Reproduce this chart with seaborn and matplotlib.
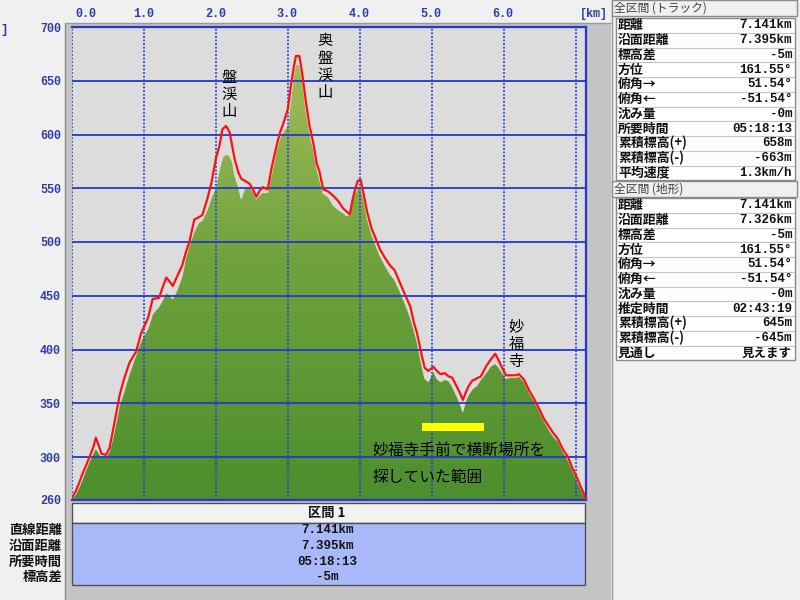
import numpy as np
import pandas as pd
import matplotlib
matplotlib.use("Agg")
import matplotlib.pyplot as plt
import seaborn as sns
from matplotlib.patches import Rectangle, PathPatch
from matplotlib.lines import Line2D
from matplotlib.colors import LinearSegmentedColormap

sns.set_style("white")
plt.rcParams['font.family'] = ['Noto Sans CJK JP', 'DejaVu Sans']

# ---------------- data ----------------
distance_km = [0.00, 0.05, 0.10, 0.15, 0.20, 0.25, 0.30, 0.33, 0.37, 0.41, 0.47, 0.52, 0.57, 0.62, 0.66,
               0.72, 0.80, 0.89, 0.96, 1.00, 1.06, 1.12, 1.21, 1.26, 1.31, 1.36, 1.40, 1.46, 1.53, 1.58,
               1.63, 1.70, 1.76, 1.81, 1.88, 1.94, 2.00, 2.05, 2.09, 2.14, 2.19, 2.23, 2.26, 2.31, 2.35,
               2.40, 2.47, 2.52, 2.56, 2.61, 2.65, 2.72, 2.77, 2.84, 2.89, 2.95, 3.00, 3.04, 3.08, 3.11,
               3.16, 3.20, 3.25, 3.30, 3.35, 3.40, 3.44, 3.49, 3.56, 3.63, 3.70, 3.77, 3.82, 3.86, 3.90,
               3.93, 3.97, 4.01, 4.05, 4.10, 4.16, 4.22, 4.28, 4.35, 4.42, 4.48, 4.55, 4.62, 4.70, 4.75,
               4.79, 4.83, 4.86, 4.90, 4.95, 5.02, 5.07, 5.12, 5.18, 5.23, 5.28, 5.35, 5.40, 5.43, 5.47,
               5.51, 5.56, 5.62, 5.68, 5.75, 5.81, 5.88, 5.92, 5.96, 6.03, 6.10, 6.16, 6.21, 6.28, 6.35,
               6.42, 6.49, 6.56, 6.63, 6.70, 6.75, 6.82, 6.89, 6.95, 7.02, 7.07, 7.11, 7.141]
track_elev_m = [262, 268, 276, 285, 293, 301, 310, 318, 311, 303, 302, 308, 325, 343, 357,
                372, 388, 398, 415, 421, 430, 447, 448, 458, 467, 463, 459, 468, 478, 490,
                500, 521, 523, 525, 540, 556, 578, 590, 605, 608, 602, 588, 577, 565, 559,
                557, 554, 548, 542, 548, 551, 549, 568, 589, 602, 613, 624, 645, 662, 673,
                673, 656, 630, 608, 593, 573, 565, 549, 547, 543, 538, 531, 528, 526, 540,
                548, 557, 558, 545, 528, 513, 503, 493, 485, 478, 474, 463, 452, 440, 425,
                416, 404, 394, 383, 380, 384, 380, 377, 378, 375, 374, 365, 358, 353, 360,
                366, 371, 373, 375, 384, 390, 396, 391, 385, 376, 376, 376, 377, 372, 362,
                354, 345, 335, 328, 321, 317, 307, 300, 290, 280, 272, 266, 260]
terrain_elev_m = [261, 265, 272, 280, 289, 297, 304, 308, 304, 300, 300, 305, 318, 334, 348,
                  360, 378, 395, 408, 413, 420, 433, 440, 446, 453, 450, 447, 455, 468, 485,
                  497, 510, 518, 520, 530, 542, 551, 568, 578, 582, 580, 574, 562, 552, 540,
                  550, 551, 546, 540, 544, 546, 546, 562, 585, 597, 604, 608, 632, 655, 665,
                  665, 650, 622, 602, 587, 568, 558, 545, 542, 534, 530, 527, 524, 528, 538,
                  545, 550, 550, 540, 522, 508, 497, 487, 478, 470, 465, 455, 444, 430, 418,
                  408, 395, 385, 373, 370, 380, 373, 370, 372, 371, 366, 356, 348, 342, 352,
                  358, 363, 366, 372, 378, 384, 387, 384, 380, 373, 374, 374, 375, 370, 360,
                  352, 343, 333, 325, 318, 315, 305, 297, 288, 277, 270, 264, 260]

x_tick_values = [0, 1, 2, 3, 4, 5, 6]
x_tick_labels = ["0.0", "1.0", "2.0", "3.0", "4.0", "5.0", "6.0"]
y_tick_values = [700, 650, 600, 550, 500, 450, 400, 350, 300, 260]
grid_km = [0, 1, 2, 3, 4, 5, 6, 7]
grid_m = [300, 350, 400, 450, 500, 550, 600, 650]

peak_names = ["盤渓山", "奥盤渓山", "妙福寺"]
peak_km = [2.18, 3.51, 6.17]
peak_label_m = [637, 663, 405]

search_range_km = [4.86, 5.73]
search_band_m = [324, 332]
note_lines = ["妙福寺手前で横断場所を", "探していた範囲"]
note_km = 4.18
note_m = [306, 281]

section_header = "区間 1"
section_labels = ["直線距離", "沿面距離", "所要時間", "標高差"]
section_values = ["7.141km", "7.395km", "05:18:13", "-5m"]

track_title = "全区間 (トラック)"
track_rows = ["距離", "沿面距離", "標高差", "方位", "俯角→", "俯角←", "沈み量", "所要時間",
              "累積標高(+)", "累積標高(-)", "平均速度"]
track_vals = ["7.141km", "7.395km", "-5m", "161.55°", "51.54°", "-51.54°", "-0m", "05:18:13",
              "658m", "-663m", "1.3km/h"]
terrain_title = "全区間 (地形)"
terrain_rows = ["距離", "沿面距離", "標高差", "方位", "俯角→", "俯角←", "沈み量", "推定時間",
                "累積標高(+)", "累積標高(-)", "見通し"]
terrain_vals = ["7.141km", "7.326km", "-5m", "161.55°", "51.54°", "-51.54°", "-0m", "02:43:19",
                "645m", "-645m", "見えます"]

# ---------------- figure ----------------
W, H = 800, 600
fig = plt.figure(figsize=(8, 6), dpi=100)
fig.patch.set_facecolor('#f0f0f0')

def frect(x0, y0, x1, y1, z=1, **kw):
    r = Rectangle((x0 / W, 1 - y1 / H), (x1 - x0) / W, (y1 - y0) / H,
                  transform=fig.transFigure, figure=fig, zorder=z, **kw)
    fig.patches.append(r)
    return r

def fline(x0, y0, x1, y1, z=2, **kw):
    fig.add_artist(Line2D([x0 / W, x1 / W], [1 - y0 / H, 1 - y1 / H],
                          transform=fig.transFigure, zorder=z, **kw))

def ftext(x, y, s, **kw):
    return fig.text(x / W, 1 - y / H, s, **kw)

MONO = ['Liberation Mono', 'DejaVu Sans Mono']
CJK = ['Noto Sans CJK JP', 'DejaVu Sans']
TICKBLUE = '#2c3ca8'

# window backgrounds (behind the axes)
frect(65, 23, 611, 600, z=-10, facecolor='#c4c4c4', edgecolor='none')
fline(65, 23, 65, 600, z=-9, color='#8c8c8c', lw=1)
fline(65, 23, 611, 23, z=-9, color='#9a9a9a', lw=1)
frect(611, 0, 800, 600, z=-10, facecolor='#f0f0f0', edgecolor='none')
fline(611.5, 0, 611.5, 600, z=-9, color='#9a9a9a', lw=1)

# ---------------- main profile axes ----------------
ax = fig.add_axes([72 / W, 1 - 500 / H, (586 - 72) / W, (500 - 27) / H])
ax.set_zorder(0)
ax.set_facecolor('#dcdcdc')

poly = ax.fill_between(distance_km, terrain_elev_m, 260, color='none', lw=0)
path = poly.get_paths()[0]
clip = PathPatch(path, transform=ax.transData, facecolor='none', edgecolor='none')
ax.add_patch(clip)
cmap = LinearSegmentedColormap.from_list('terr', ['#4d8e2d', '#6fa23c', '#a9c05e'])
grad = np.linspace(0, 1, 256).reshape(-1, 1)
im = ax.imshow(grad, extent=[0, 7.141, 260, 700], origin='lower', cmap=cmap,
               aspect='auto', zorder=2, interpolation='bilinear')
im.set_clip_path(clip)
ax.plot(distance_km, terrain_elev_m, color='#ececec', lw=0.7, alpha=0.7, zorder=2.5)

for m in grid_m:
    ax.axhline(m, color='#2438d0', lw=1.3, zorder=3)
for k in grid_km:
    ax.axvline(k, color='#2440e0', lw=1.3, ls=(0, (1, 1)), zorder=3)

df = pd.DataFrame({'km': distance_km, 'track': track_elev_m})
sns.lineplot(data=df, x='km', y='track', ax=ax, color='#ff1010', lw=1.6,
             sort=False, estimator=None, zorder=5)

ax.set_xlim(0, 7.141)
ax.set_ylim(260, 700)
ax.set_xlabel('')
ax.set_ylabel('')
for side in ['top', 'right', 'bottom']:
    ax.spines[side].set_color('#2438d0')
    ax.spines[side].set_linewidth(1.6)
ax.spines['left'].set_visible(False)

ax.set_xticks([])
ax.set_yticks(y_tick_values)
ax.set_yticklabels([str(v) for v in y_tick_values])
ax.tick_params(axis='y', length=0, pad=8, labelsize=8.5, labelcolor=TICKBLUE)
for lbl in ax.get_yticklabels():
    lbl.set_fontfamily(MONO)
    lbl.set_fontweight('bold')

for v, s in zip(x_tick_values, x_tick_labels):
    if v == 0:
        ax.annotate(s, xy=(v, 1), xycoords=('data', 'axes fraction'), xytext=(2.5, 9.5),
                    textcoords='offset points', ha='left', va='center', fontsize=8.5,
                    color=TICKBLUE, fontfamily=MONO, fontweight='bold', annotation_clip=False)
    else:
        ax.annotate(s, xy=(v, 1), xycoords=('data', 'axes fraction'), xytext=(-0.5, 9.5),
                    textcoords='offset points', ha='center', va='center', fontsize=8.5,
                    color=TICKBLUE, fontfamily=MONO, fontweight='bold', annotation_clip=False)
ftext(594, 14, "[km]", ha='center', va='center', fontsize=8.5, color=TICKBLUE,
      fontfamily=MONO, fontweight='bold')
ftext(0.5, 30, "]", ha='left', va='center', fontsize=9, color=TICKBLUE,
      fontfamily=MONO, fontweight='bold')

# peak labels (vertical)
for name, k, m in zip(peak_names, peak_km, peak_label_m):
    ax.text(k, m, "\n".join(name), ha='center', va='center', fontsize=11,
            linespacing=1.02, color='black', fontfamily=CJK, zorder=6)

# search range marker and note
ax.add_patch(Rectangle((search_range_km[0], search_band_m[0]),
                       search_range_km[1] - search_range_km[0],
                       search_band_m[1] - search_band_m[0],
                       facecolor='#ffff00', edgecolor='none', zorder=6))
for line, m in zip(note_lines, note_m):
    ax.text(note_km, m, line, ha='left', va='center', fontsize=11.3, color='black',
            fontfamily=CJK, zorder=6)

# ---------------- section table under chart ----------------
frect(72, 503, 585, 523, z=3, facecolor='#f2f2f2', edgecolor='#505050', lw=1)
frect(72, 523, 585, 585, z=3, facecolor='#a8b8f8', edgecolor='#505050', lw=1)
ftext(327, 513, section_header, ha='center', va='center', fontsize=9.5,
      fontweight='bold', fontfamily=CJK, color='#111111', zorder=4)
row_y = [530, 546, 562, 577]
for lab, val, y in zip(section_labels, section_values, row_y):
    ftext(62, y, lab, ha='right', va='center', fontsize=9.5, fontweight='bold',
          fontfamily=CJK, color='#111111', zorder=4)
    ftext(327, y, val, ha='center', va='center', fontsize=9, fontweight='bold',
          fontfamily=MONO, color='#111111', zorder=4)

# ---------------- right info panel ----------------
def info_table(title, title_y0, rows, vals, top):
    frect(612, title_y0, 797, title_y0 + 16, z=3, facecolor='#f0f0f0', edgecolor='#8a8a8a', lw=1)
    ftext(614, title_y0 + 8, title, ha='left', va='center', fontsize=8.5,
          fontfamily=CJK, color='#404040', zorder=4)
    pitch = 14.75
    bottom = top + pitch * len(rows)
    frect(616, top, 795, bottom, z=3, facecolor='white', edgecolor='#8a8a8a', lw=1)
    for i in range(1, len(rows)):
        y = top + i * pitch
        fline(617, y, 794, y, z=3.5, color='#c4c4c4', lw=0.8)
    for i, (r, v) in enumerate(zip(rows, vals)):
        yc = top + (i + 0.5) * pitch
        ftext(618, yc, r, ha='left', va='center', fontsize=9.3, fontweight='bold',
              fontfamily=CJK, color='#111111', zorder=4)
        fam = CJK if any(ord(c) > 0x3000 for c in v) else MONO
        ftext(792, yc, v, ha='right', va='center', fontsize=9, fontweight='bold',
              fontfamily=fam, color='#111111', zorder=4)

info_table(track_title, 0, track_rows, track_vals, 18)
info_table(terrain_title, 181, terrain_rows, terrain_vals, 198)

fig.savefig("out.png", dpi=100, facecolor=fig.get_facecolor())
